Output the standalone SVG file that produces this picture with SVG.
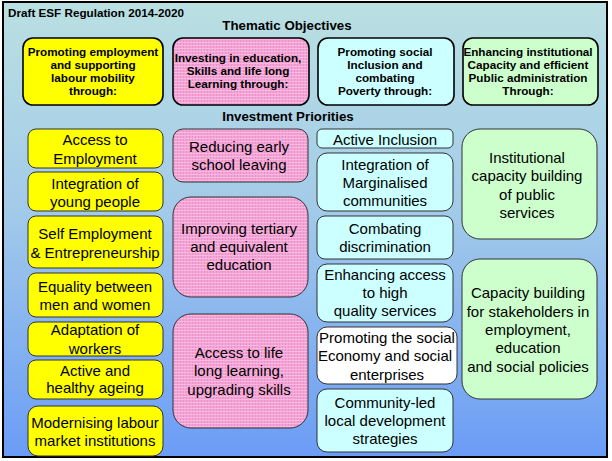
<svg xmlns="http://www.w3.org/2000/svg" width="612" height="461" viewBox="0 0 612 461">
<defs>
<linearGradient id="bg" x1="0" y1="0" x2="0" y2="1">
<stop offset="0" stop-color="#bae0e2"/>
<stop offset="0.45" stop-color="#a3cbe9"/>
<stop offset="1" stop-color="#6b9cf6"/>
</linearGradient>
<pattern id="hatch" width="3" height="3" patternUnits="userSpaceOnUse">
<rect width="3" height="3" fill="#f4a3d6"/>
<rect width="1" height="3" fill="#e992c8"/>
<rect width="3" height="1" fill="#f9b8df"/>
</pattern>
<style>
.hd{font-family:"Liberation Sans",Arial,sans-serif;font-weight:bold;font-size:11.7px;fill:#000;text-anchor:middle}
.sec{font-family:"Liberation Sans",Arial,sans-serif;font-weight:bold;font-size:13.3px;fill:#000;text-anchor:middle}
.t{font-family:"Liberation Sans",Arial,sans-serif;font-size:15px;fill:#000;text-anchor:middle}
.top{stroke:#000;stroke-width:1.6}
.box{stroke:#333;stroke-width:1}
.y{fill:#ffff00}
.p{fill:url(#hatch)}
.c{fill:#ccffff}
.g{fill:#ccffcc}
.w{fill:#ffffff}
</style>
</defs>
<rect x="3" y="2" width="604" height="455" fill="url(#bg)" stroke="#000" stroke-width="2"/>
<text x="8" y="17" class="hd" style="text-anchor:start">Draft ESF Regulation 2014-2020</text>
<text x="287" y="30" class="sec">Thematic Objectives</text>
<text x="288" y="121" class="sec">Investment Priorities</text>

<g id="to-employment">
<rect x="23" y="38" width="140" height="67" rx="10" class="top y"/>
<text class="hd"><tspan x="93" y="55.5">Promoting employment</tspan><tspan x="93" y="68.5">and supporting</tspan><tspan x="93" y="81.5">labour mobility</tspan><tspan x="93" y="95">through:</tspan></text>
</g>
<g id="to-education">
<rect x="173" y="38" width="136" height="67" rx="10" class="top p"/>
<text class="hd"><tspan x="238" y="62">Investing in education,</tspan><tspan x="238" y="75">Skills and life long</tspan><tspan x="238" y="88">Learning through:</tspan></text>
</g>
<g id="to-inclusion">
<rect x="318" y="38" width="136" height="67" rx="10" class="top c"/>
<text class="hd"><tspan x="385" y="55.5">Promoting social</tspan><tspan x="385" y="68.5">Inclusion and</tspan><tspan x="385" y="81.5">combating</tspan><tspan x="385" y="95">Poverty through:</tspan></text>
</g>
<g id="to-capacity">
<rect x="463" y="38" width="135" height="67" rx="10" class="top g"/>
<text class="hd"><tspan x="528" y="55.5">Enhancing institutional</tspan><tspan x="528" y="68.5">Capacity and efficient</tspan><tspan x="528" y="81.5">Public administration</tspan><tspan x="528" y="95">Through:</tspan></text>
</g>

<g id="access-employment">
<rect x="28" y="129" width="135" height="39" rx="8" class="box y"/>
<text class="t"><tspan x="95" y="145">Access to</tspan><tspan x="95" y="164">Employment</tspan></text>
</g>
<g id="young-people">
<rect x="28" y="172" width="135" height="39" rx="8" class="box y"/>
<text class="t"><tspan x="95" y="189">Integration of</tspan><tspan x="95" y="207">young people</tspan></text>
</g>
<g id="self-employment">
<rect x="28" y="216" width="135" height="52" rx="8" class="box y"/>
<text class="t"><tspan x="95" y="239">Self Employment</tspan><tspan x="95" y="258">&amp; Entrepreneurship</tspan></text>
</g>
<g id="equality">
<rect x="28" y="273" width="135" height="44" rx="8" class="box y"/>
<text class="t"><tspan x="95" y="292">Equality between</tspan><tspan x="95" y="310">men and women</tspan></text>
</g>
<g id="adaptation">
<rect x="28" y="322" width="135" height="34" rx="8" class="box y"/>
<text class="t"><tspan x="95" y="335">Adaptation of</tspan><tspan x="95" y="354">workers</tspan></text>
</g>
<g id="ageing">
<rect x="28" y="360" width="135" height="39" rx="8" class="box y"/>
<text class="t"><tspan x="95" y="375.5">Active and</tspan><tspan x="95" y="393">healthy ageing</tspan></text>
</g>
<g id="modernising">
<rect x="28" y="406" width="135" height="50" rx="10" class="box y"/>
<text class="t"><tspan x="95" y="428">Modernising labour</tspan><tspan x="95" y="446">market institutions</tspan></text>
</g>

<g id="early-school">
<rect x="173" y="129" width="135" height="53" rx="10" class="box p"/>
<text class="t"><tspan x="239" y="151.5">Reducing early</tspan><tspan x="239" y="170">school leaving</tspan></text>
</g>
<g id="tertiary">
<rect x="173" y="197" width="135" height="100" rx="18" class="box p"/>
<text class="t"><tspan x="239" y="234">Improving tertiary</tspan><tspan x="239" y="252">and equivalent</tspan><tspan x="239" y="270">education</tspan></text>
</g>
<g id="lifelong">
<rect x="173" y="314" width="135" height="114" rx="18" class="box p"/>
<text class="t"><tspan x="239" y="357.5">Access to life</tspan><tspan x="239" y="376">long learning,</tspan><tspan x="239" y="394.5">upgrading skills</tspan></text>
</g>

<g id="active-inclusion">
<rect x="317" y="129" width="136" height="19" rx="5" class="box c"/>
<text class="t"><tspan x="385" y="145">Active Inclusion</tspan></text>
</g>
<g id="marginalised">
<rect x="317" y="153" width="136" height="58" rx="10" class="box c"/>
<text class="t"><tspan x="385" y="170">Integration of</tspan><tspan x="385" y="188">Marginalised</tspan><tspan x="385" y="205.5">communities</tspan></text>
</g>
<g id="discrimination">
<rect x="317" y="216" width="136" height="43" rx="8" class="box c"/>
<text class="t"><tspan x="385" y="234">Combating</tspan><tspan x="385" y="252">discrimination</tspan></text>
</g>
<g id="quality-services">
<rect x="317" y="264" width="136" height="58" rx="10" class="box c"/>
<text class="t"><tspan x="385" y="280">Enhancing access</tspan><tspan x="385" y="298">to high</tspan><tspan x="385" y="316">quality services</tspan></text>
</g>
<g id="social-economy">
<rect x="317" y="327" width="140" height="57" rx="10" class="box w"/>
<text class="t"><tspan x="387" y="343">Promoting the social</tspan><tspan x="385" y="361">Economy and social</tspan><tspan x="387" y="379.5">enterprises</tspan></text>
</g>
<g id="community-led">
<rect x="317" y="389" width="136" height="63" rx="10" class="box c"/>
<text class="t"><tspan x="385" y="408">Community-led</tspan><tspan x="385" y="426">local development</tspan><tspan x="385" y="444">strategies</tspan></text>
</g>

<g id="institutional">
<rect x="462" y="129" width="135" height="110" rx="18" class="box g"/>
<text class="t"><tspan x="527" y="163">Institutional</tspan><tspan x="527" y="181">capacity building</tspan><tspan x="527" y="200">of public</tspan><tspan x="527" y="217.5">services</tspan></text>
</g>
<g id="stakeholders">
<rect x="462" y="259" width="135" height="140" rx="18" class="box g"/>
<text class="t"><tspan x="528" y="298">Capacity building</tspan><tspan x="528" y="316.5">for stakeholders in</tspan><tspan x="528" y="335">employment,</tspan><tspan x="528" y="353">education</tspan><tspan x="528" y="371.5">and social policies</tspan></text>
</g>
<g id="connectors"/>
</svg>
